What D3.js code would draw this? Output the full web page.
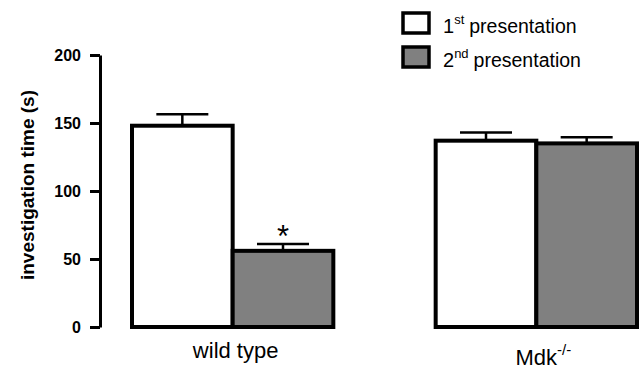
<!DOCTYPE html>
<html>
<head>
<meta charset="utf-8">
<script src="https://cdn.jsdelivr.net/npm/d3@7"></script>
<style>
  html, body { margin: 0; padding: 0; background: #fff; }
  svg { display: block; font-family: "Liberation Sans", Arial, sans-serif; }
</style>
</head>
<body>
<svg id="chart" width="643" height="370"></svg>
<script>
// Genotype groups and the two presentations
const groups = ["wild type", "Mdk"];
const groupSup = ["", "-/-"];
const series = ["1st", "2nd"];
const seriesSup = ["st", "nd"];
const seriesNum = ["1", "2"];
const seriesFill = ["#ffffff", "#808080"];

// Mean investigation time (s) per group, one array per presentation
const firstMean = [148, 137];
const secondMean = [56, 135];
// SEM per group
const firstErr = [8.5, 6];
const secondErr = [5, 4.5];
// Significance markers per group (over the 2nd presentation)
const secondSig = ["*", ""];

const yTicks = [0, 50, 100, 150, 200];

const svg = d3.select("#chart");

const y = d3.scaleLinear().domain([0, 200]).range([327, 55]);
const x0 = d3.scaleBand().domain(groups).range([132, 637]).paddingInner(0.337).paddingOuter(0);
const x1 = d3.scaleBand().domain(series).range([0, x0.bandwidth()]).padding(0);

const means = [firstMean, secondMean];
const errs = [firstErr, secondErr];

const rows = [];
groups.forEach((g, gi) => {
  series.forEach((s, si) => {
    rows.push({ g, s, si, v: means[si][gi], e: errs[si][gi], sig: si === 1 ? secondSig[gi] : "" });
  });
});

// Y axis
const yAxis = d3.axisLeft(y).tickValues(yTicks).tickSize(10).tickSizeOuter(0).tickPadding(9);
const ax = svg.append("g").attr("transform", "translate(100,0)").call(yAxis);
ax.select(".domain").attr("stroke", "#000").attr("stroke-width", 3);
ax.selectAll(".tick line").attr("stroke", "#000").attr("stroke-width", 3);
ax.selectAll(".tick text")
  .attr("fill", "#000")
  .style("font-family", "'Liberation Sans', Arial, sans-serif")
  .style("font-weight", "bold")
  .style("font-size", "16px");

svg.append("text")
  .attr("transform", "translate(34,185) rotate(-90)")
  .attr("text-anchor", "middle")
  .style("font-weight", "bold")
  .style("font-size", "19px")
  .text("investigation time (s)");

// Error bars (drawn first so bar outlines sit on top)
const eb = svg.append("g");
rows.forEach(d => {
  const cx = x0(d.g) + x1(d.s) + x1.bandwidth() / 2;
  eb.append("line")
    .attr("x1", cx).attr("x2", cx)
    .attr("y1", y(d.v)).attr("y2", y(d.v + d.e))
    .attr("stroke", "#000").attr("stroke-width", 2.5);
  eb.append("line")
    .attr("x1", cx - 26).attr("x2", cx + 26)
    .attr("y1", y(d.v + d.e)).attr("y2", y(d.v + d.e))
    .attr("stroke", "#000").attr("stroke-width", 2.5);
  if (d.sig) {
    svg.append("text")
      .attr("x", cx).attr("y", y(d.v + d.e) + 3)
      .attr("text-anchor", "middle")
      .style("font-size", "31px")
      .text(d.sig);
  }
});

// Bars
svg.append("g").selectAll("rect").data(rows).join("rect")
  .attr("x", d => x0(d.g) + x1(d.s))
  .attr("width", x1.bandwidth())
  .attr("y", d => y(d.v))
  .attr("height", d => y(0) - y(d.v))
  .attr("fill", d => seriesFill[d.si])
  .attr("stroke", "#000")
  .attr("stroke-width", 4);

// Group labels
groups.forEach((g, gi) => {
  const cx = x0(g) + x0.bandwidth() / 2;
  const t = svg.append("text")
    .attr("x", gi === 0 ? cx + 3 : cx + 7)
    .attr("y", gi === 0 ? 358 : 365)
    .attr("text-anchor", "middle")
    .style("font-size", "22px")
    .text(g);
  if (groupSup[gi]) {
    t.append("tspan").attr("dy", -10).style("font-size", "15px").text(groupSup[gi]);
  }
});

// Legend
const lg = svg.append("g");
const legendY = [13, 47];
series.forEach((s, si) => {
  lg.append("rect")
    .attr("x", 403).attr("y", legendY[si])
    .attr("width", 26).attr("height", 20)
    .attr("fill", seriesFill[si])
    .attr("stroke", "#000").attr("stroke-width", 3.5);
  const t = lg.append("text")
    .attr("x", 443).attr("y", legendY[si] + 20)
    .style("font-size", "20px")
    .text(seriesNum[si]);
  t.append("tspan").attr("dy", -9).style("font-size", "13px").text(seriesSup[si]);
  t.append("tspan").attr("dy", 9).attr("dx", 5).style("font-size", "19.5px").text("presentation");
});
</script>
</body>
</html>
